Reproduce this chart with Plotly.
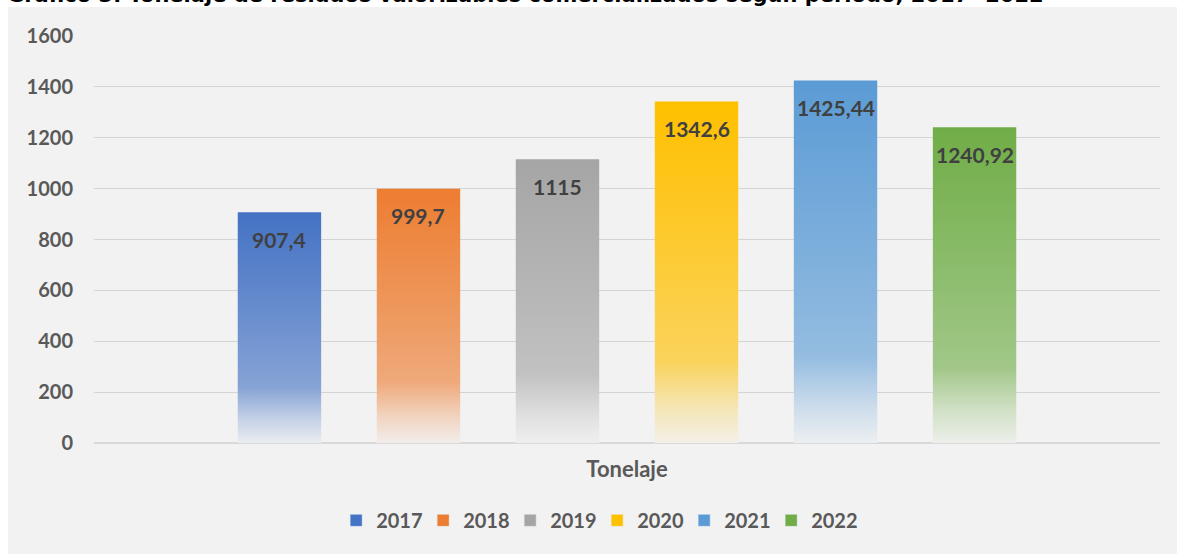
import plotly.graph_objects as go

years = ["2017", "2018", "2019", "2020", "2021", "2022"]
tonelaje = [907.4, 999.7, 1115, 1342.6, 1425.44, 1240.92]
colors = ["#4472C4", "#ED7D31", "#A5A5A5", "#FFC000", "#5B9BD5", "#70AD47"]
category = "Tonelaje"
title = "Gráfico 3. Tonelaje de residuos valorizables comercializados según período, 2017- 2022"

BG = (242, 242, 242)
FONT = "Lato"


def blend(hex_color, a):
    r, g, b = (int(hex_color[i:i + 2], 16) for i in (1, 3, 5))
    mix = [round(c * a + bg * (1 - a)) for c, bg in zip((r, g, b), BG)]
    return "rgb({},{},{})".format(*mix)


def fade(hex_color):
    stops = [(0, 0.04), (0.1, 0.25), (0.24, 0.62), (0.5, 0.76), (1, 1)]
    return [[s, blend(hex_color, a)] for s, a in stops]


half = 0.3
fig = go.Figure()

for i, (year, val, col) in enumerate(zip(years, tonelaje, colors)):
    fig.add_trace(go.Scatter(
        x=[i - half, i + half, i + half, i - half, i - half],
        y=[0, 0, val, val, 0],
        mode="lines", line=dict(width=0), fill="toself",
        fillgradient=dict(type="vertical", colorscale=fade(col), start=0, stop=val),
        showlegend=False, hoverinfo="skip",
    ))
    # legend entry
    fig.add_trace(go.Bar(x=[None], y=[None], name=year, marker_color=col))
    fig.add_annotation(
        x=i, y=val, text=f"{val:g}".replace(".", ","), showarrow=False,
        yshift=-27, yanchor="middle",
        font=dict(family=FONT, size=21, color="#404040", weight="bold"),
    )

# gray chart box
fig.add_shape(type="rect", xref="paper", yref="paper",
              x0=-0.0807, x1=1.02, y0=-0.28, y1=1.0713,
              fillcolor="#f2f2f2", line_width=0, layer="below")

# title sits above the chart box, mostly cut off by the page top
fig.add_annotation(
    xref="paper", yref="paper", x=-0.0835, y=1.0663, xanchor="left", yanchor="bottom",
    text=title, showarrow=False,
    font=dict(family="DejaVu Sans", size=21, color="#000000", weight="bold"),
)

fig.update_layout(
    width=1177, height=554,
    margin=dict(l=94, r=17, t=36, b=111),
    paper_bgcolor="white", plot_bgcolor="rgba(0,0,0,0)",
    font=dict(family=FONT, size=20, color="#595959", weight="bold"),
    showlegend=True,
    legend=dict(orientation="h", x=0.472, xanchor="center", y=-0.19, yanchor="middle",
                font=dict(size=20, color="#595959", weight="bold"),
                entrywidth=42, itemwidth=30, bgcolor="rgba(0,0,0,0)"),
)
fig.update_xaxes(
    type="linear", range=[-1.334, 6.334], showgrid=False, zeroline=False,
    tickvals=[(len(years) - 1) / 2], ticktext=[category], ticks="",
    ticklabelstandoff=11,
    tickfont=dict(family=FONT, size=22, color="#595959", weight="bold"),
)
fig.update_yaxes(
    range=[0, 1600], dtick=200, showgrid=True, gridcolor="#d4d4d4", gridwidth=1,
    zeroline=True, zerolinecolor="#d9d9d9", zerolinewidth=2,
    ticks="", ticklabelstandoff=20,
    tickfont=dict(family=FONT, size=20, color="#595959", weight="bold"),
)

fig.write_html("out.html", config={"displayModeBar": False},
               post_script="document.body.style.margin = '0';")
